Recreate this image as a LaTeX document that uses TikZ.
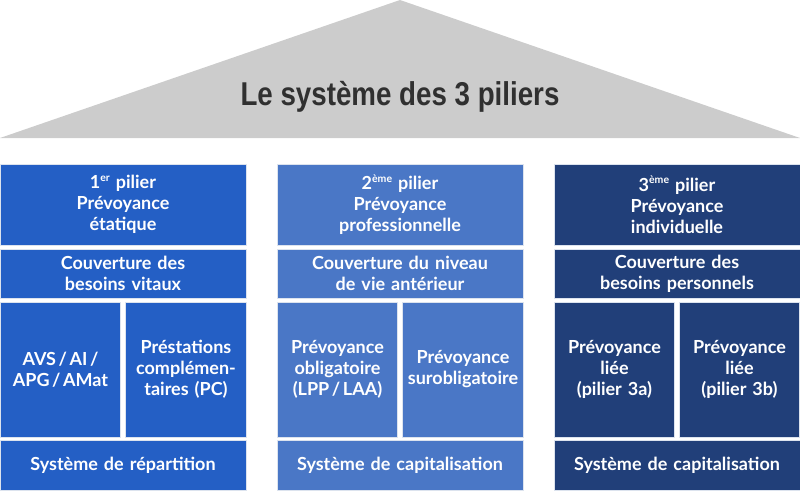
\documentclass[tikz,border=0pt]{standalone}
\usepackage{fontspec}
\setmainfont{Lato}[BoldFont={Lato Bold}]
\newfontfamily\titlefont[FakeStretch=0.84]{Liberation Sans}
\definecolor{roofgray}{HTML}{CCCCCC}
\definecolor{titlegray}{HTML}{303030}
\definecolor{pA}{HTML}{245FC5}
\definecolor{pB}{HTML}{4A77C6}
\definecolor{pC}{HTML}{213F79}
\definecolor{edgec}{HTML}{DCE3EE}
\newcommand{\supx}[1]{\raisebox{0.42em}{\bfseries\fontsize{10.5}{10.5}\selectfont #1}}
\newcommand{\slsep}{\hspace{2.6pt}/\hspace{2.6pt}}
\begin{document}
\begin{tikzpicture}[x=1pt,y=-1pt,
  cell/.style={draw=edgec, line width=0.6pt, text=white, inner sep=0pt, align=center,
    font=\bfseries\fontsize{18}{21}\selectfont, anchor=center},
  wide/.style={cell, minimum width=246pt, text width=240pt},
  half/.style={cell, minimum width=120.5pt, text width=118pt},
  hA/.style={minimum height=81pt},
  hB/.style={minimum height=49.5pt},
  hC/.style={minimum height=135pt},
  hD/.style={minimum height=50pt},
  colA/.style={fill=pA},
  colB/.style={fill=pB},
  colC/.style={fill=pC}]
\useasboundingbox (0,0) rectangle (800,490);
% roof
\fill[roofgray] (0,138) -- (400,0) -- (800,138) -- cycle;
\node[font=\titlefont\bfseries\fontsize{33}{38}\selectfont, text=titlegray] (title) at (400,97) {Le système des 3 piliers};
% pillar 1
\node[wide,hA,colA] (a1) at (123,204.5) {1\supx{er} pilier\\Prévoyance\\étatique};
\node[wide,hB,colA] (a2) at (123,273.75) {Couverture des\\besoins vitaux};
\node[half,hC,colA] (a3) at (60.5,369.5) {AVS\slsep AI\hspace{2.6pt}/\\APG\slsep AMat};
\node[half,hC,colA] (a4) at (186,369.5) {Préstations\\complémen-\\taires (PC)};
\node[wide,hD,colA] (a5) at (123,465) {Système de répartition};
% pillar 2
\node[wide,hA,colB] (b1) at (400,204.5) {2\supx{ème} pilier\\Prévoyance\\professionnelle};
\node[wide,hB,colB] (b2) at (400,273.75) {Couverture du niveau\\de vie antérieur};
\node[half,hC,colB] (b3) at (337.5,369.5) {Prévoyance\\obligatoire\\(LPP\slsep LAA)};
\node[half,hC,colB] (b4) at (463,369.5) {Prévoyance\\surobligatoire};
\node[wide,hD,colB] (b5) at (400,465) {Système de capitalisation};
% pillar 3
\node[wide,hA,colC] (c1) at (677,204.5) {3\supx{ème} pilier\\Prévoyance\\individuelle};
\node[wide,hB,colC] (c2) at (677,273.75) {Couverture des\\besoins personnels};
\node[half,hC,colC] (c3) at (614.5,369.5) {Prévoyance\\liée\\(pilier 3a)};
\node[half,hC,colC] (c4) at (739.5,369.5) {Prévoyance\\liée\\(pilier 3b)};
\node[wide,hD,colC] (c5) at (677,465) {Système de capitalisation};
\end{tikzpicture}
\end{document}
